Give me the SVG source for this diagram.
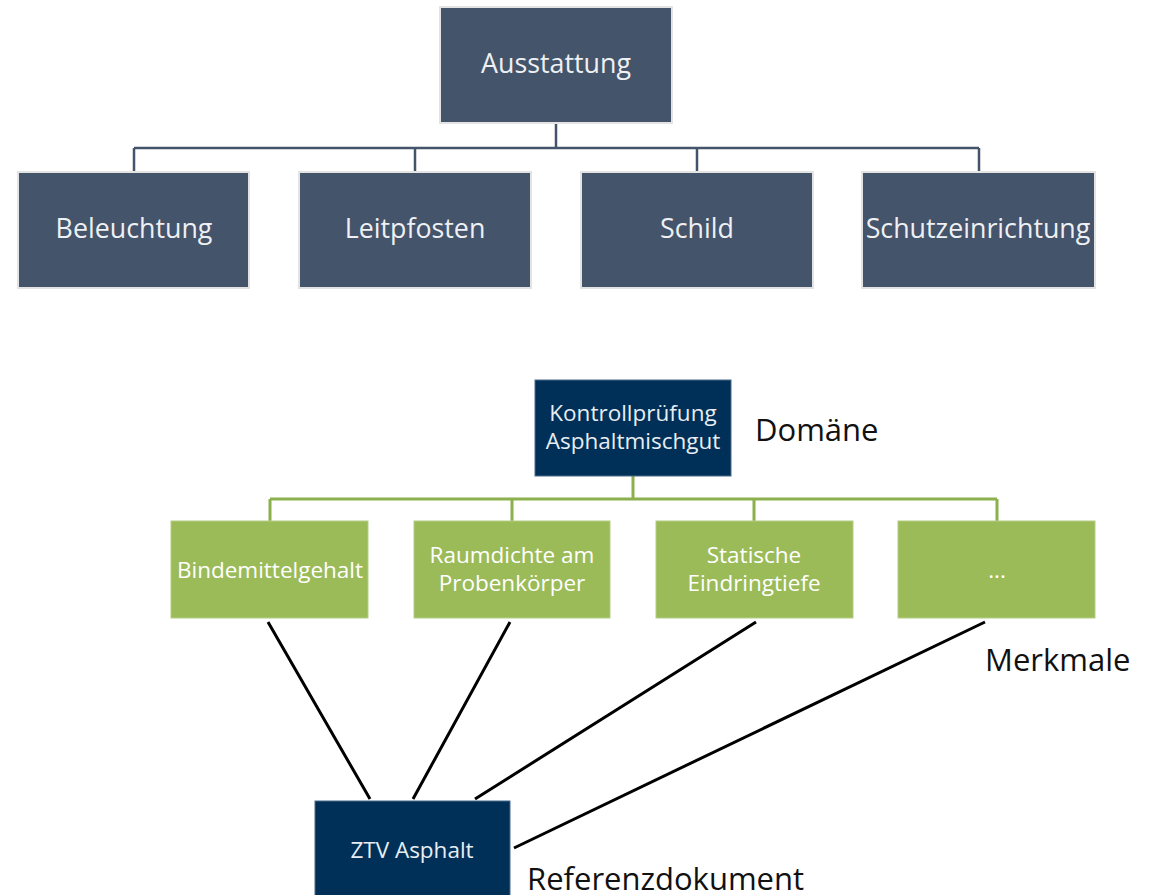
<svg xmlns="http://www.w3.org/2000/svg" width="1153" height="895" viewBox="0 0 1153 895">
<style>
.top rect{fill:#44546a;stroke:#e3e3e3;stroke-width:2}
.top text{fill:#eef0f3;font-family:"Open Sans",sans-serif;font-size:26.8px;text-anchor:middle}
.dark rect{fill:#003057;stroke:#4a6a8a;stroke-width:1}
.dark text{fill:#e8edf3;font-family:"Open Sans",sans-serif;font-size:22.5px;text-anchor:middle}
.green rect{fill:#9bbb59;stroke:#b5cd85;stroke-width:1}
.green text{fill:#ffffff;font-family:"Open Sans",sans-serif;font-size:22.5px;text-anchor:middle}
.lbl{fill:#111111;font-family:"Open Sans",sans-serif;font-size:31px}
.c1{stroke:#44546a;stroke-width:2.5;fill:none}
.c2{stroke:#8db04f;stroke-width:3;fill:none}
.c3{stroke:#000000;stroke-width:3;fill:none}
</style>
<g id="connectors">
<path class="c1" d="M556 123V148M134 148H979M134 148V172M415 148V172M697 148V172M979 148V172"/>
<path class="c2" d="M633 476V499M270 499H997M270 499V521M512 499V521M754 499V521M997 499V521"/>
<path class="c3" d="M268 622L370 799M510 622L413 799M756 622L475 799M985 622L514 848"/>
</g>
<g id="ausstattung" class="top"><rect x="440" y="7" width="232" height="116"/><text x="556" y="73">Ausstattung</text></g>
<g id="beleuchtung" class="top"><rect x="18" y="172" width="231" height="116"/><text x="134" y="238">Beleuchtung</text></g>
<g id="leitpfosten" class="top"><rect x="299" y="172" width="232" height="116"/><text x="415" y="238">Leitpfosten</text></g>
<g id="schild" class="top"><rect x="581" y="172" width="232" height="116"/><text x="697" y="238">Schild</text></g>
<g id="schutzeinrichtung" class="top"><rect x="862" y="172" width="233" height="116"/><text x="978" y="238">Schutzeinrichtung</text></g>
<g id="kontrollpruefung" class="dark"><rect x="535" y="380" width="196" height="96"/><text x="633" y="421">Kontrollprüfung</text><text x="633" y="449">Asphaltmischgut</text></g>
<g id="bindemittelgehalt" class="green"><rect x="171" y="521" width="197" height="97"/><text x="270" y="578">Bindemittelgehalt</text></g>
<g id="raumdichte" class="green"><rect x="414" y="521" width="196" height="97"/><text x="512" y="563">Raumdichte am</text><text x="512" y="591">Probenkörper</text></g>
<g id="statische" class="green"><rect x="656" y="521" width="197" height="97"/><text x="754" y="563">Statische</text><text x="754" y="591">Eindringtiefe</text></g>
<g id="more" class="green"><rect x="898" y="521" width="197" height="97"/><text x="997" y="578">...</text></g>
<g id="ztv" class="dark"><rect x="315" y="801" width="195" height="100"/><text x="412" y="858">ZTV Asphalt</text></g>
<g id="labels">
<text class="lbl" x="755" y="441">Domäne</text>
<text class="lbl" x="985" y="671">Merkmale</text>
<text class="lbl" x="527" y="890">Referenzdokument</text>
</g>
</svg>
